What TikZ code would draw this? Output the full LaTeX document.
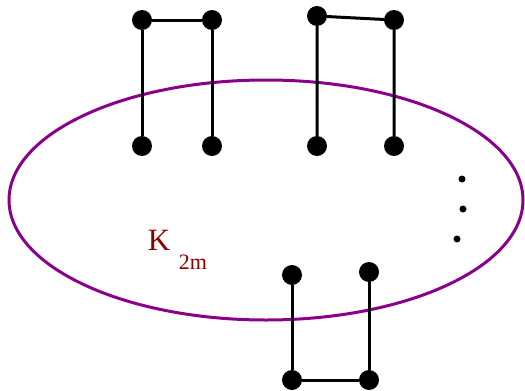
\documentclass[tikz,border=0pt]{standalone}
\usepackage{fontspec}
\setmainfont{Liberation Serif}
\usetikzlibrary{positioning}
\definecolor{lila}{RGB}{139,0,139}
\definecolor{sotetpiros}{RGB}{139,0,0}
\tikzset{
  pont/.style={circle,fill,inner sep=0pt,minimum size=20pt},
  kispont/.style={circle,fill,inner sep=0pt,minimum size=7pt},
  el/.style={line width=3pt},
  halmaz/.style={draw=lila,line width=3pt},
  cimke/.style={text=sotetpiros,inner sep=0pt},
}

\begin{document}
\begin{tikzpicture}[x=1pt,y=-1pt]
  \useasboundingbox (0,0) rectangle (525,391);
  \draw[halmaz] (266,200) ellipse [x radius=257pt, y radius=120pt];
  % first pair
  \node[pont] (a1) at (142,20) {};
  \node[pont] (a2) at (212,20) {};
  \node[pont] (a3) at (142,146) {};
  \node[pont] (a4) at (212,146) {};
  \draw[el] (a3) -- (a1) -- (a2) -- (a4);
  % second pair
  \node[pont] (b1) at (317,16) {};
  \node[pont] (b2) at (394,20) {};
  \node[pont] (b3) at (317,146) {};
  \node[pont] (b4) at (394,146) {};
  \draw[el] (b3) -- (b1) -- (b2) -- (b4);
  % last pair, below
  \node[pont] (c1) at (292,275) {};
  \node[pont] (c2) at (369,272) {};
  \node[pont] (c3) at (292,380) {};
  \node[pont] (c4) at (369,380) {};
  \draw[el] (c1) -- (c3) -- (c4) -- (c2);
  % dots
  \node[kispont] (d1) at (462,179) {};
  \node[kispont] (d2) at (463,209) {};
  \node[kispont] (d3) at (457,239) {};
  % label
  \node[cimke,font=\fontsize{31}{32}\selectfont] (k) at (159,240) {K};
  \node[cimke,font=\fontsize{22}{23}\selectfont] (km) at (193,262) {2m};
\end{tikzpicture}
\end{document}
